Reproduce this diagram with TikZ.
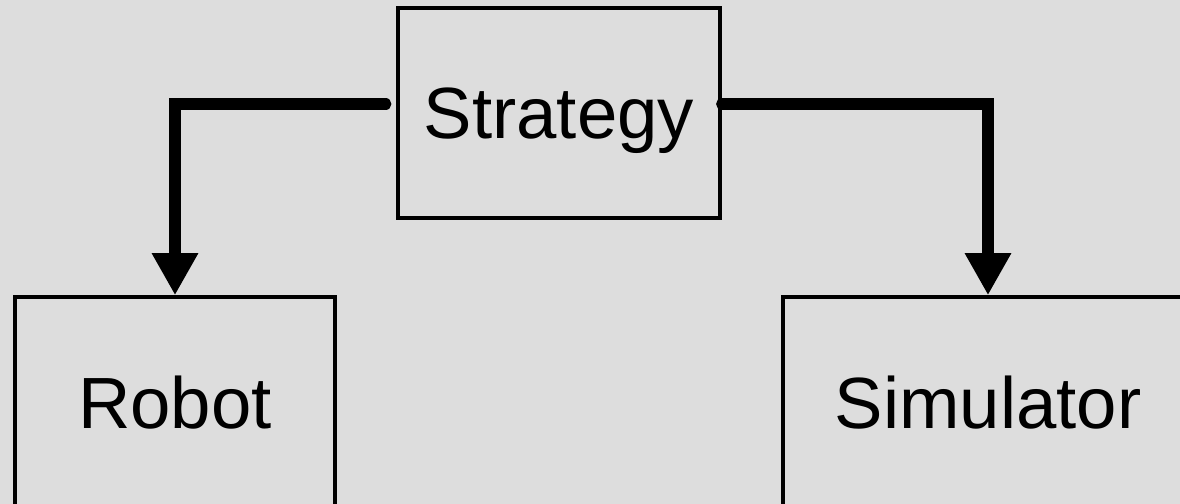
\documentclass[tikz,border=0pt]{standalone}
\usepackage{fontspec}
\setmainfont{Liberation Sans}
\usepackage{tikz}
\usetikzlibrary{arrows.meta}
\definecolor{panel}{HTML}{DDDDDD}
\tikzstyle{link} = [draw,line width=8pt,line cap=round,-{Triangle[length=30pt,width=31pt]}]
\tikzset{
  block/.style = {draw=black, line width=2.4pt, inner sep=0pt, minimum height=149.4pt,
    text depth=0pt, font=\fontsize{51.6}{60}\selectfont},% boite grise
}

\begin{document}
\begin{tikzpicture}[x=0.025cm,y=-0.025cm]
                    \useasboundingbox (0,0) rectangle (1180,504);
                    \clip (0,0) rectangle (1180,504);
                    \fill[panel] (0,0) rectangle (1180,504);

                    \node[block,minimum width=229pt] (strategy) at (559,113) {Strategy};
                    \node[block,minimum width=227.6pt] (robot) at (175,402) {Robot};
                    \node[block,minimum width=291.6pt] (simulator) at (988,402) {Simulator};

                    \path[link] ([xshift=-7.5pt,yshift=6.4pt]strategy.west) -| (robot.north);
                    \path[link] ([yshift=6.4pt]strategy.east) -| (simulator.north);
                \end{tikzpicture}
\end{document}
